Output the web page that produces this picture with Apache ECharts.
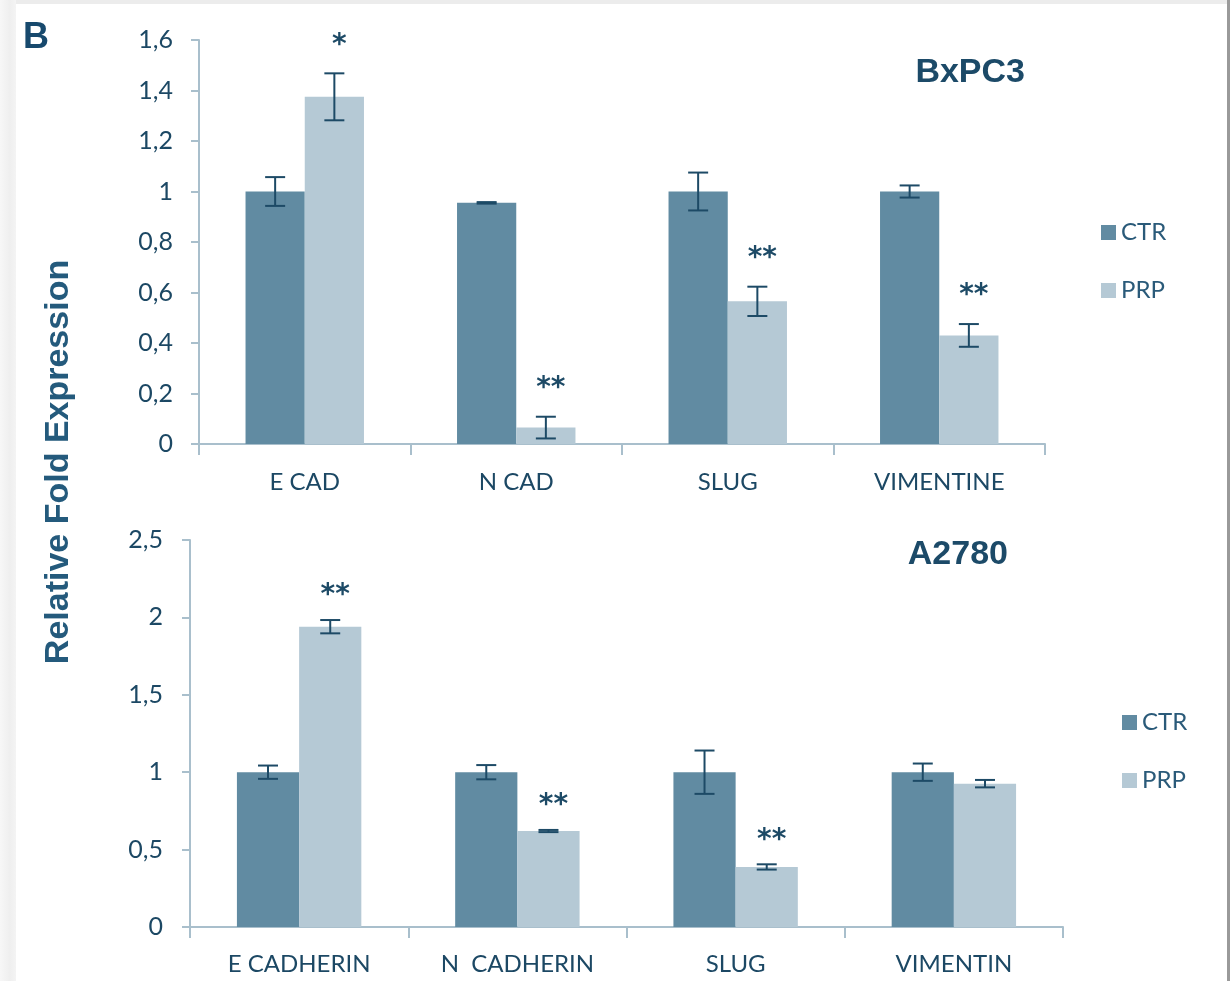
<!DOCTYPE html>
<html>
<head>
<meta charset="utf-8">
<script src="https://cdn.jsdelivr.net/npm/echarts@6/dist/echarts.min.js"></script>
<style>
html,body{margin:0;padding:0;background:#fff;}
#chart{width:1230px;height:981px;}
</style>
</head>
<body>
<div id="chart"></div>
<script>
// ---- Data ----
const seriesNames = ['CTR', 'PRP'];

const topCategories = ['E CAD', 'N CAD', 'SLUG', 'VIMENTINE'];
const topCTR = [1.0, 0.955, 1.0, 1.0];
const topCTRerr = [0.057, 0.003, 0.075, 0.024];
const topPRP = [1.375, 0.065, 0.565, 0.43];
const topPRPerr = [0.093, 0.043, 0.058, 0.045];
const topStars = ['*', '**', '**', '**'];
const topTicks = [0, 0.2, 0.4, 0.6, 0.8, 1.0, 1.2, 1.4, 1.6];

const botCategories = ['E CADHERIN', 'N  CADHERIN', 'SLUG', 'VIMENTIN'];
const botCTR = [1.0, 1.0, 1.0, 1.0];
const botCTRerr = [0.043, 0.046, 0.14, 0.056];
const botPRP = [1.94, 0.62, 0.388, 0.926];
const botPRPerr = [0.043, 0.007, 0.017, 0.024];
const botStars = ['**', '**', '**', ''];
const botTicks = [0, 0.5, 1.0, 1.5, 2.0, 2.5];

const topTitle = 'BxPC3';
const botTitle = 'A2780';
const yAxisTitle = 'Relative Fold Expression';
const panelLetter = 'B';

// ---- Styles ----
const CTR_COLOR = '#618ba2';
const PRP_COLOR = '#b5c9d5';
const ERR_COLOR = '#1d4a66';
const TEXT_COLOR = '#1c4864';
const AXIS_COLOR = '#a9bfcc';
const FONT = 'Lato, "Open Sans", sans-serif';

function fmt(v) { return String(+v.toFixed(1)).replace('.', ','); }

function errSeries(gridIdx, vals, errs, side, catGap) {
  return {
    type: 'custom',
    xAxisIndex: gridIdx, yAxisIndex: gridIdx,
    z: 5, silent: true,
    data: vals.map((v, i) => [i, v - errs[i], v + errs[i]]),
    renderItem: function (params, api) {
      const band = api.size([1, 0])[0];
      const bw = band * (1 - catGap) / 2;
      const c = api.coord([api.value(0), api.value(2)]);
      const lo = api.coord([api.value(0), api.value(1)]);
      const x = c[0] + (side === 0 ? -bw / 2 : bw / 2);
      const hw = 10;
      const st = { stroke: ERR_COLOR, lineWidth: 2 };
      return {
        type: 'group',
        children: [
          { type: 'line', shape: { x1: x, y1: c[1], x2: x, y2: lo[1] }, style: st },
          { type: 'line', shape: { x1: x - hw, y1: c[1], x2: x + hw, y2: c[1] }, style: st },
          { type: 'line', shape: { x1: x - hw, y1: lo[1], x2: x + hw, y2: lo[1] }, style: st }
        ]
      };
    }
  };
}

function starSeries(gridIdx, vals, errs, stars, catGap, off, dx) {
  return {
    type: 'custom',
    xAxisIndex: gridIdx, yAxisIndex: gridIdx,
    z: 6, silent: true,
    data: vals.map((v, i) => [i, v + errs[i]]),
    renderItem: function (params, api) {
      const band = api.size([1, 0])[0];
      const bw = band * (1 - catGap) / 2;
      const c = api.coord([api.value(0), api.value(1)]);
      const s = stars[params.dataIndex];
      if (!s) return null;
      return {
        type: 'text',
        style: {
          text: s, x: c[0] + bw / 2 + dx, y: c[1] - off,
          fill: ERR_COLOR, font: 'bold 28px "DejaVu Sans", sans-serif',
          align: 'center', verticalAlign: 'middle'
        }
      };
    }
  };
}

const TOP_GAP = 0.44, BOT_GAP = 0.43;

const option = {
  backgroundColor: '#ffffff',
  animation: false,
  graphic: [
    { type: 'rect', shape: { x: 0, y: 0, width: 1230, height: 4 }, style: { fill: '#ececec' }, z: -10 },
    { type: 'rect', shape: { x: 0, y: 0, width: 16, height: 981 },
      style: { fill: { type: 'linear', x: 0, y: 0, x2: 1, y2: 0, colorStops: [{ offset: 0, color: '#f7f7f7' }, { offset: 0.6, color: '#efefef' }, { offset: 1, color: '#f4f4f4' }] } }, z: -10 },
    { type: 'rect', shape: { x: 1227, y: 0, width: 3, height: 981 }, style: { fill: '#9a9a9a' }, z: -10 },
    { type: 'text', x: 23, y: 38, style: { text: panelLetter, fill: '#17496d', font: 'bold 36px "Liberation Sans", Arial, sans-serif', verticalAlign: 'middle' } },
    { type: 'text', x: 59, y: 462, rotation: Math.PI / 2,
      style: { text: yAxisTitle, fill: '#245a7c', font: 'bold 34px "Liberation Sans", Arial, sans-serif', align: 'center', verticalAlign: 'middle' } },
    { type: 'text', x: 1025, y: 73, style: { text: topTitle, fill: '#1c4a68', font: 'bold 34px "Liberation Sans", Arial, sans-serif', align: 'right', verticalAlign: 'middle' } },
    { type: 'text', x: 1008, y: 555, style: { text: botTitle, fill: '#1c4a68', font: 'bold 34px "Liberation Sans", Arial, sans-serif', align: 'right', verticalAlign: 'middle' } }
  ],
  legend: [
    { data: seriesNames, orient: 'vertical', left: 1096, top: 215, icon: 'rect', itemWidth: 15, itemHeight: 15,
      itemGap: 33, selectedMode: false,
      textStyle: { color: '#2a5a79', fontSize: 24, fontFamily: FONT, lineHeight: 25, padding: [0, 0, 0, 0] } },
    { data: seriesNames, orient: 'vertical', left: 1117, top: 705, icon: 'rect', itemWidth: 15, itemHeight: 15,
      itemGap: 33, selectedMode: false,
      textStyle: { color: '#2a5a79', fontSize: 24, fontFamily: FONT, lineHeight: 25, padding: [0, 0, 0, 0] } }
  ],
  grid: [
    { left: 199, right: 185, top: 40, bottom: 537 },
    { left: 190, right: 167, top: 540, bottom: 54 }
  ],
  xAxis: [
    { type: 'category', gridIndex: 0, data: topCategories,
      axisLine: { lineStyle: { color: AXIS_COLOR, width: 2 } },
      axisTick: { show: true, length: 11, lineStyle: { color: AXIS_COLOR, width: 2 } },
      axisLabel: { color: TEXT_COLOR, fontSize: 24, fontFamily: FONT, margin: 26 } },
    { type: 'category', gridIndex: 1, data: botCategories,
      axisLine: { lineStyle: { color: AXIS_COLOR, width: 2 } },
      axisTick: { show: true, length: 11, lineStyle: { color: AXIS_COLOR, width: 2 } },
      axisLabel: { color: TEXT_COLOR, fontSize: 24, fontFamily: FONT, margin: 25 } }
  ],
  yAxis: [
    { type: 'value', gridIndex: 0, min: topTicks[0], max: topTicks[topTicks.length - 1], interval: 0.2,
      axisLine: { show: true, lineStyle: { color: AXIS_COLOR, width: 2 } },
      axisTick: { show: true, length: 8, lineStyle: { color: AXIS_COLOR, width: 2 } },
      splitLine: { show: false },
      axisLabel: { color: TEXT_COLOR, fontSize: 25, fontFamily: FONT, margin: 26, formatter: fmt } },
    { type: 'value', gridIndex: 1, min: botTicks[0], max: botTicks[botTicks.length - 1], interval: 0.5,
      axisLine: { show: true, lineStyle: { color: AXIS_COLOR, width: 2 } },
      axisTick: { show: true, length: 8, lineStyle: { color: AXIS_COLOR, width: 2 } },
      splitLine: { show: false },
      axisLabel: { color: TEXT_COLOR, fontSize: 25, fontFamily: FONT, margin: 27, formatter: fmt } }
  ],
  series: [
    { name: 'CTR', type: 'bar', xAxisIndex: 0, yAxisIndex: 0, data: topCTR, barGap: '0%', barCategoryGap: (TOP_GAP * 100) + '%', itemStyle: { color: CTR_COLOR } },
    { name: 'PRP', type: 'bar', xAxisIndex: 0, yAxisIndex: 0, data: topPRP, barGap: '0%', barCategoryGap: (TOP_GAP * 100) + '%', itemStyle: { color: PRP_COLOR } },
    { name: 'CTR', type: 'bar', xAxisIndex: 1, yAxisIndex: 1, data: botCTR, barGap: '0%', barCategoryGap: (BOT_GAP * 100) + '%', itemStyle: { color: CTR_COLOR } },
    { name: 'PRP', type: 'bar', xAxisIndex: 1, yAxisIndex: 1, data: botPRP, barGap: '0%', barCategoryGap: (BOT_GAP * 100) + '%', itemStyle: { color: PRP_COLOR } },
    errSeries(0, topCTR, topCTRerr, 0, TOP_GAP),
    errSeries(0, topPRP, topPRPerr, 1, TOP_GAP),
    errSeries(1, botCTR, botCTRerr, 0, BOT_GAP),
    errSeries(1, botPRP, botPRPerr, 1, BOT_GAP),
    starSeries(0, topPRP, topPRPerr, topStars, TOP_GAP, 28, 5),
    starSeries(1, botPRP, botPRPerr, botStars, BOT_GAP, 24, 5)
  ]
};

const chart = echarts.init(document.getElementById('chart'), null, { renderer: 'canvas' });
chart.setOption(option);
</script>
</body>
</html>
